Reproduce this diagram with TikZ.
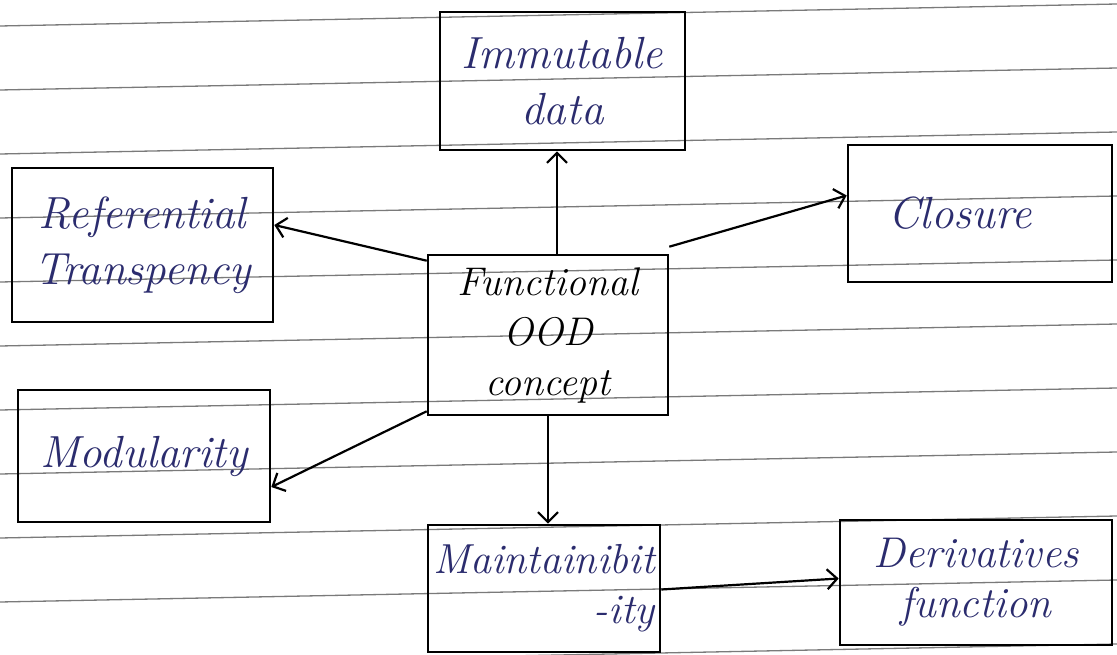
\documentclass[tikz,border=0pt]{standalone}
\usetikzlibrary{arrows.meta}
\definecolor{ink}{HTML}{2B2C6E}
\definecolor{rulegray}{HTML}{7A7A7A}
\begin{document}
\begin{tikzpicture}[x=1pt,y=-1pt,
  box/.style={draw=black, line width=2.6pt, inner sep=0pt},
  lbl/.style={text=ink, font=\fontsize{45}{56}\selectfont\itshape, align=center},
  blk/.style={text=black, font=\fontsize{40}{50}\selectfont\itshape, align=center},
  arr/.style={line width=2.2pt, -{Straight Barb[length=10pt,width=20pt,line width=2.2pt]}},
  rule/.style={draw=rulegray, line width=1.3pt}]
\useasboundingbox (0,0) rectangle (1117,655);
\fill[white] (0,0) rectangle (1117,655);
% ruled paper
\foreach \k in {0,...,10}{
  \pgfmathsetmacro{\ya}{11+64*\k+15}
  \pgfmathsetmacro{\yb}{11+64*\k-7}
  \draw[rule] (0,\ya) -- (1117,\yb);
}
% boxes
\node[box, minimum width=245pt, minimum height=138pt, lbl] (imm) at (562.5,81) {Immutable\\data};
\node[box, minimum width=261pt, minimum height=154pt, lbl] (ref) at (142.5,245) {Referential\\Transpency};
\node[box, minimum width=264pt, minimum height=137pt, lbl] (clo) at (980,213.5) {Closure\hspace*{40pt}};
\node[box, minimum width=240pt, minimum height=160pt, blk] (fun) at (548,335) {Functional\\OOD\\concept};
\node[box, minimum width=252pt, minimum height=132pt, lbl] (mod) at (144,456) {Modularity};
\node[box, minimum width=232pt, minimum height=127pt, lbl, font=\fontsize{42}{50}\selectfont\itshape, align=right] (mai) at (544,588.5) {Maintainibit\\-ity};
\node[box, minimum width=272pt, minimum height=125pt, lbl, font=\fontsize{43}{50}\selectfont\itshape] (der) at (976,582.5) {Derivatives\\function};
% connectors
\draw[arr] ([xshift=9pt]fun.north) -- ([xshift=-5.5pt]imm.south);
\draw[arr] ([yshift=-7pt]fun.north west) -- ([yshift=20pt]ref.east);
\draw[arr] ([yshift=7pt]fun.north east) -- ([yshift=18pt]clo.west);
\draw[arr] ([yshift=5pt]fun.south west) -- ([yshift=-31pt]mod.east);
\draw[arr] (fun.south) -- ([xshift=4pt]mai.north);
\draw[arr] ([yshift=-1pt]mai.east) -- ([yshift=4pt]der.west);
\end{tikzpicture}
\end{document}
